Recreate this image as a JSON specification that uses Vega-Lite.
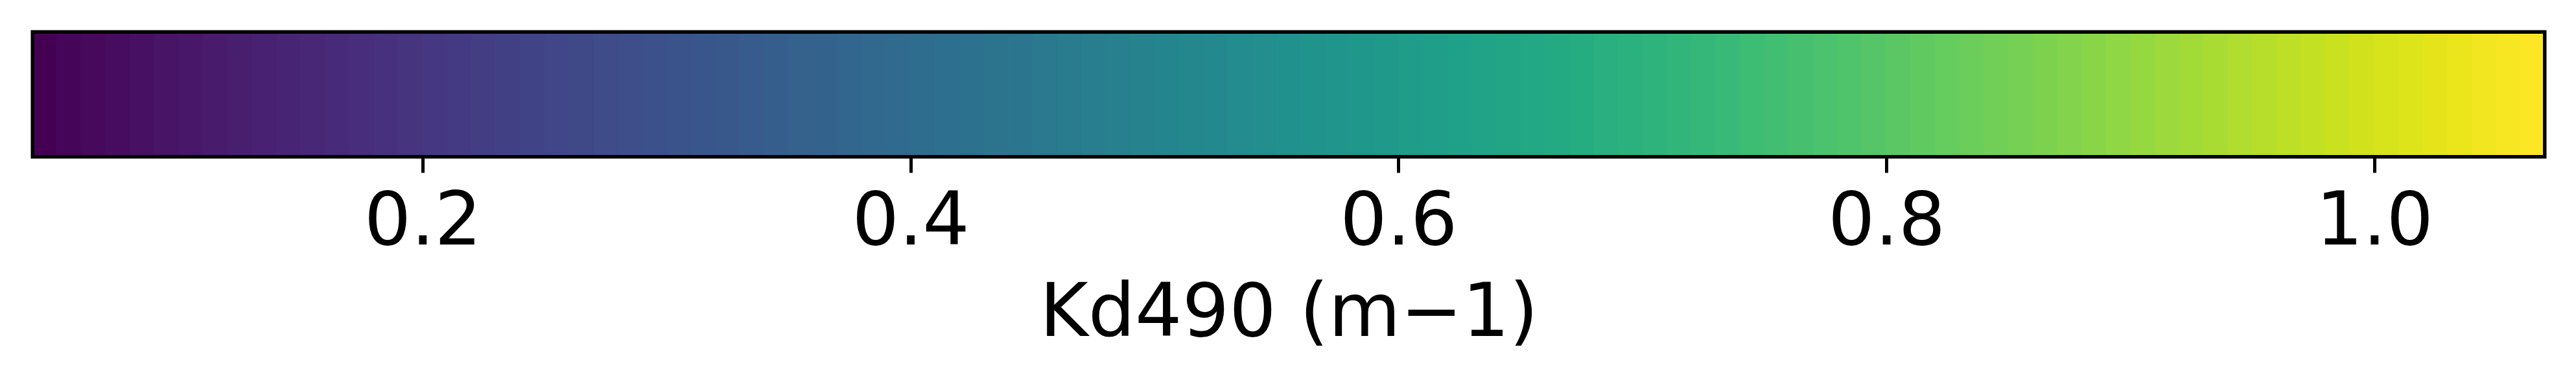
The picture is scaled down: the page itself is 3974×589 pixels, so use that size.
{
  "$schema": "https://vega.github.io/schema/vega-lite/v6.json",
  "autosize": {"type": "none"},
  "width": 3870,
  "height": 187,
  "padding": {"left": 53, "top": 52, "right": 51, "bottom": 350},
  "background": "white",
  "config": {
    "view": {"stroke": "black", "strokeWidth": 11},
    "font": "DejaVu Sans"
  },
  "data": {"values": [
    {"a":0.04,"b":0.05},{"a":0.05,"b":0.06},{"a":0.06,"b":0.07},{"a":0.07,"b":0.08},{"a":0.08,"b":0.09},{"a":0.09,"b":0.10},
    {"a":0.10,"b":0.11},{"a":0.11,"b":0.12},{"a":0.12,"b":0.13},{"a":0.13,"b":0.14},{"a":0.14,"b":0.15},{"a":0.15,"b":0.16},
    {"a":0.16,"b":0.17},{"a":0.17,"b":0.18},{"a":0.18,"b":0.19},{"a":0.19,"b":0.20},{"a":0.20,"b":0.21},{"a":0.21,"b":0.22},
    {"a":0.22,"b":0.23},{"a":0.23,"b":0.24},{"a":0.24,"b":0.25},{"a":0.25,"b":0.26},{"a":0.26,"b":0.27},{"a":0.27,"b":0.28},
    {"a":0.28,"b":0.29},{"a":0.29,"b":0.30},{"a":0.30,"b":0.31},{"a":0.31,"b":0.32},{"a":0.32,"b":0.33},{"a":0.33,"b":0.34},
    {"a":0.34,"b":0.35},{"a":0.35,"b":0.36},{"a":0.36,"b":0.37},{"a":0.37,"b":0.38},{"a":0.38,"b":0.39},{"a":0.39,"b":0.40},
    {"a":0.40,"b":0.41},{"a":0.41,"b":0.42},{"a":0.42,"b":0.43},{"a":0.43,"b":0.44},{"a":0.44,"b":0.45},{"a":0.45,"b":0.46},
    {"a":0.46,"b":0.47},{"a":0.47,"b":0.48},{"a":0.48,"b":0.49},{"a":0.49,"b":0.50},{"a":0.50,"b":0.51},{"a":0.51,"b":0.52},
    {"a":0.52,"b":0.53},{"a":0.53,"b":0.54},{"a":0.54,"b":0.55},{"a":0.55,"b":0.56},{"a":0.56,"b":0.57},{"a":0.57,"b":0.58},
    {"a":0.58,"b":0.59},{"a":0.59,"b":0.60},{"a":0.60,"b":0.61},{"a":0.61,"b":0.62},{"a":0.62,"b":0.63},{"a":0.63,"b":0.64},
    {"a":0.64,"b":0.65},{"a":0.65,"b":0.66},{"a":0.66,"b":0.67},{"a":0.67,"b":0.68},{"a":0.68,"b":0.69},{"a":0.69,"b":0.70},
    {"a":0.70,"b":0.71},{"a":0.71,"b":0.72},{"a":0.72,"b":0.73},{"a":0.73,"b":0.74},{"a":0.74,"b":0.75},{"a":0.75,"b":0.76},
    {"a":0.76,"b":0.77},{"a":0.77,"b":0.78},{"a":0.78,"b":0.79},{"a":0.79,"b":0.80},{"a":0.80,"b":0.81},{"a":0.81,"b":0.82},
    {"a":0.82,"b":0.83},{"a":0.83,"b":0.84},{"a":0.84,"b":0.85},{"a":0.85,"b":0.86},{"a":0.86,"b":0.87},{"a":0.87,"b":0.88},
    {"a":0.88,"b":0.89},{"a":0.89,"b":0.90},{"a":0.90,"b":0.91},{"a":0.91,"b":0.92},{"a":0.92,"b":0.93},{"a":0.93,"b":0.94},
    {"a":0.94,"b":0.95},{"a":0.95,"b":0.96},{"a":0.96,"b":0.97},{"a":0.97,"b":0.98},{"a":0.98,"b":0.99},{"a":0.99,"b":1.00},
    {"a":1.00,"b":1.01},{"a":1.01,"b":1.02},{"a":1.02,"b":1.03},{"a":1.03,"b":1.04},{"a":1.04,"b":1.05},{"a":1.05,"b":1.06},
    {"a":1.06,"b":1.07}
  ]},
  "mark": {"type": "rect", "strokeWidth": 1, "clip": true},
  "encoding": {
    "x": {
      "field": "a", "type": "quantitative",
      "scale": {"domain": [0.0409, 1.0691], "nice": false, "zero": false},
      "axis": {
        "title": "Kd490 (m\u22121)",
        "values": [0.2, 0.4, 0.6, 0.8, 1.0],
        "format": ".1f",
        "domain": false,
        "grid": false,
        "ticks": true,
        "tickSize": 27,
        "tickWidth": 5,
        "tickColor": "black",
        "labelFontSize": 114,
        "labelColor": "black",
        "labelFont": "DejaVu Sans",
        "labelPadding": 20,
        "labelLimit": 2000,
        "labelFlush": false,
        "labelOverlap": false,
        "titleFontSize": 114,
        "titleFontWeight": "normal",
        "titleFont": "DejaVu Sans",
        "titleColor": "black",
        "titleLimit": 4000,
        "titlePadding": 28
      }
    },
    "x2": {"field": "b"},
    "color": {"field": "a", "type": "quantitative", "scale": {"scheme": "viridis", "domain": [0.04, 1.06]}, "legend": null},
    "stroke": {"field": "a", "type": "quantitative", "scale": {"scheme": "viridis", "domain": [0.04, 1.06]}, "legend": null}
  }
}
